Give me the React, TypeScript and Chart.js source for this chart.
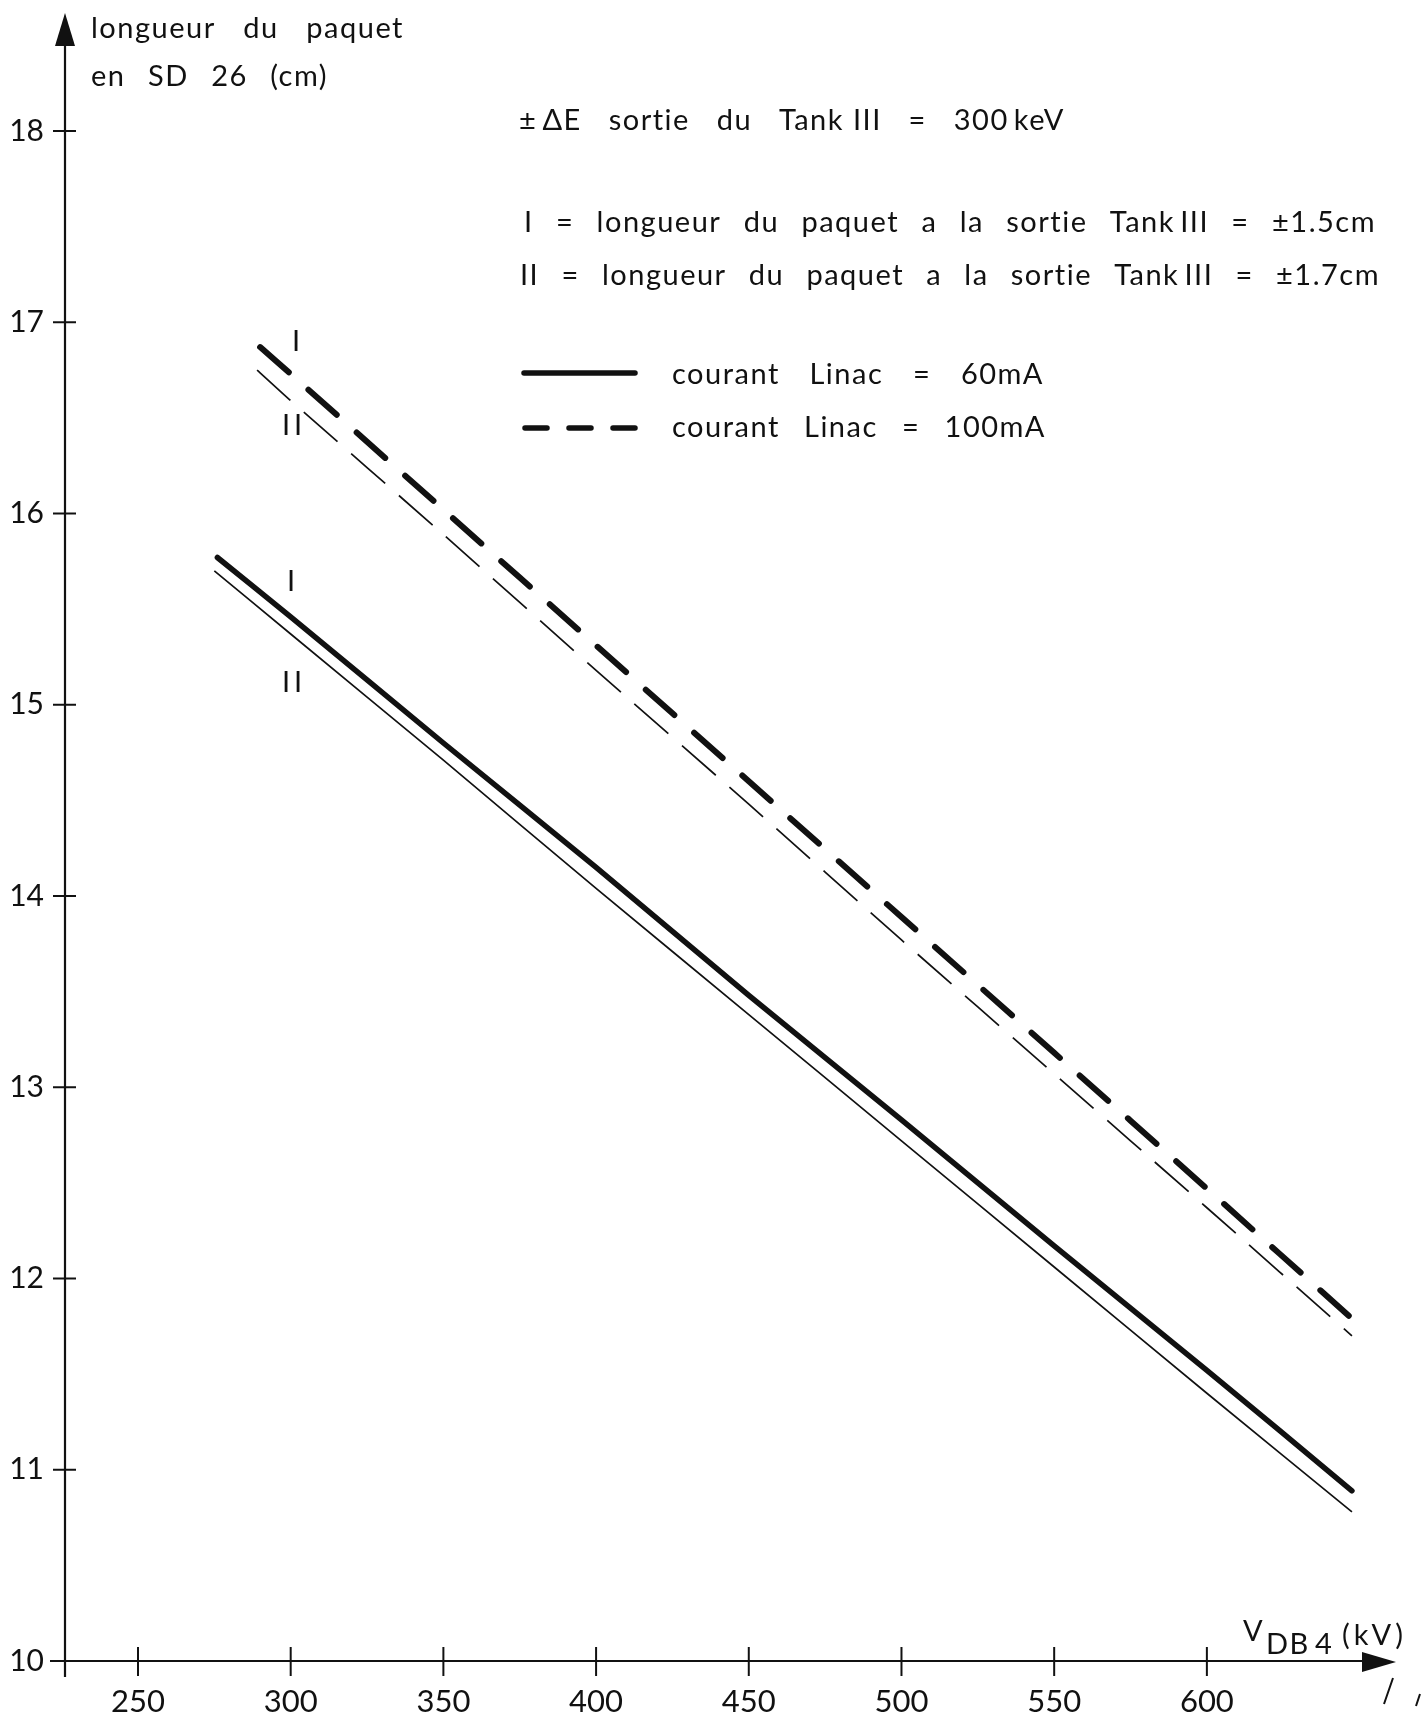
import React, { useEffect, useRef } from "react";
import { Chart, registerables } from "chart.js";

Chart.register(...registerables);

// ---- data ----
const xTickValues = [250, 300, 350, 400, 450, 500, 550, 600];
const yTickValues = [10, 11, 12, 13, 14, 15, 16, 17, 18];

// courant Linac = 60 mA (solid)
const kvSolidI = [276, 300, 350, 400, 450, 500, 550, 600, 647.5];
const lenSolidI = [15.77, 15.46, 14.8, 14.15, 13.48, 12.83, 12.17, 11.52, 10.89];
const kvSolidII = [275, 300, 350, 400, 450, 500, 550, 600, 647.5];
const lenSolidII = [15.7, 15.37, 14.71, 14.04, 13.38, 12.72, 12.06, 11.4, 10.78];

// courant Linac = 100 mA (dashed)
const kvDashI = [290, 300, 350, 400, 450, 500, 550, 600, 647.5];
const lenDashI = [16.87, 16.73, 16.02, 15.31, 14.6, 13.89, 13.18, 12.47, 11.79];
const kvDashII = [289, 300, 350, 400, 450, 500, 550, 600, 647.5];
const lenDashII = [16.75, 16.59, 15.89, 15.18, 14.48, 13.77, 13.07, 12.37, 11.7];

const yTitleLines = ["longueur du paquet", "en SD 26 (cm)"];
const noteLines = [
  "±\u2009ΔE sortie du Tank\u00A0III = 300\u2009keV",
  "I = longueur du paquet a la sortie Tank\u2009III = ±1.5cm",
  "II = longueur du paquet a la sortie Tank\u2009III = ±1.7cm",
];
const legendLabels = ["courant Linac = 60mA", "courant Linac = 100mA"];
const curveLabels = ["I", "II", "I", "II"];
const xTitleParts = ["V", "DB\u20094", "(kV)"];

const FONT = "Lato, 'Open Sans', sans-serif";
const INK = "#111";

function zip(xs: number[], ys: number[]) {
  return xs.map((x, i) => ({ x, y: ys[i] }));
}

function spreadText(ctx: CanvasRenderingContext2D, text: string, x: number, y: number, target: number) {
  const words = text.split(" ");
  const widths = words.map((w) => ctx.measureText(w).width);
  const sum = widths.reduce((a, b) => a + b, 0);
  const gap = words.length > 1 ? (target - sum) / (words.length - 1) : 0;
  let cx = x;
  words.forEach((w, i) => {
    ctx.fillText(w, cx, y);
    cx += widths[i] + gap;
  });
}

const decorPlugin = {
  id: "decor",
  afterDraw(chart: any) {
    const ctx: any = chart.ctx;
    const xs = chart.scales.x;
    const ys = chart.scales.y;
    const ax = chart.chartArea.left;
    const ay = chart.chartArea.bottom;
    ctx.save();
    ctx.strokeStyle = INK;
    ctx.fillStyle = INK;
    ctx.lineCap = "butt";
    ctx.setLineDash([]);

    // y axis
    ctx.lineWidth = 2.2;
    ctx.beginPath();
    ctx.moveTo(ax, 40);
    ctx.lineTo(ax, ay + 16);
    ctx.stroke();
    ctx.beginPath();
    ctx.moveTo(ax, 13);
    ctx.lineTo(ax - 10, 46);
    ctx.lineTo(ax + 10, 46);
    ctx.closePath();
    ctx.fill();

    // x axis
    ctx.beginPath();
    ctx.moveTo(ax - 15, ay);
    ctx.lineTo(1370, ay);
    ctx.stroke();
    ctx.beginPath();
    ctx.moveTo(1396, ay + 1);
    ctx.lineTo(1362, ay - 9);
    ctx.lineTo(1362, ay + 11);
    ctx.closePath();
    ctx.fill();

    // ticks crossing the axes
    ctx.lineWidth = 2;
    yTickValues.forEach((v) => {
      const py = ys.getPixelForValue(v);
      ctx.beginPath();
      ctx.moveTo(ax - 12, py);
      ctx.lineTo(ax + 11, py);
      ctx.stroke();
    });
    xTickValues.forEach((v) => {
      const px = xs.getPixelForValue(v);
      ctx.beginPath();
      ctx.moveTo(px, ay - 14);
      ctx.lineTo(px, ay + 15);
      ctx.stroke();
    });

    // break marks
    ctx.beginPath();
    ctx.moveTo(1393, 1678);
    ctx.lineTo(1384, 1704);
    ctx.moveTo(1420, 1694);
    ctx.lineTo(1416, 1706);
    ctx.stroke();

    ctx.letterSpacing = "1.5px";
    // y title
    ctx.textAlign = "left";
    ctx.textBaseline = "alphabetic";
    ctx.font = `29px ${FONT}`;
    spreadText(ctx, yTitleLines[0], 91, 38, 313);
    spreadText(ctx, yTitleLines[1], 91, 86, 237);

    // x title
    ctx.font = `29px ${FONT}`;
    ctx.fillText(xTitleParts[0], 1243, 1641);
    ctx.fillText(xTitleParts[1], 1266, 1654);
    ctx.letterSpacing = "4px";
    ctx.fillText(xTitleParts[2], 1342, 1645);
    ctx.letterSpacing = "1.5px";

    // notes
    ctx.font = `29px ${FONT}`;
    ctx.textBaseline = "middle";
    spreadText(ctx, noteLines[0], 519, 121, 546);
    spreadText(ctx, noteLines[1], 524, 223, 852);
    spreadText(ctx, noteLines[2], 520, 276, 860);

    // legend
    ctx.lineWidth = 5.5;
    ctx.lineCap = "round";
    ctx.beginPath();
    ctx.moveTo(524, 373);
    ctx.lineTo(635, 373);
    ctx.stroke();
    ctx.setLineDash([22, 22]);
    ctx.beginPath();
    ctx.moveTo(525, 428);
    ctx.lineTo(638, 428);
    ctx.stroke();
    ctx.setLineDash([]);
    spreadText(ctx, legendLabels[0], 672, 375, 372);
    spreadText(ctx, legendLabels[1], 672, 428, 374);

    // curve labels I / II
    ctx.letterSpacing = "4px";
    ctx.textAlign = "center";
    ctx.font = `29px ${FONT}`;
    const lp = [
      [298, 342],
      [294, 426],
      [293, 582],
      [294, 683],
    ];
    curveLabels.forEach((t, i) => ctx.fillText(t, lp[i][0], lp[i][1]));
    ctx.letterSpacing = "0px";

    ctx.restore();
  },
};

export default function App() {
  const ref = useRef<HTMLCanvasElement | null>(null);

  useEffect(() => {
    if (!ref.current) return;
    const chart = new Chart(ref.current, {
      type: "line",
      data: {
        datasets: [
          {
            label: "I 60 mA",
            data: zip(kvSolidI, lenSolidI),
            borderColor: INK,
            borderWidth: 5.5,
            borderCapStyle: "round",
            pointRadius: 0,
            tension: 0.2,
          },
          {
            label: "II 60 mA",
            data: zip(kvSolidII, lenSolidII),
            borderColor: INK,
            borderWidth: 1.7,
            pointRadius: 0,
            tension: 0.2,
          },
          {
            label: "I 100 mA",
            data: zip(kvDashI, lenDashI),
            borderColor: INK,
            borderWidth: 6,
            borderDash: [38, 26.5],
            borderCapStyle: "round",
            pointRadius: 0,
            tension: 0.2,
          },
          {
            label: "II 100 mA",
            data: zip(kvDashII, lenDashII),
            borderColor: INK,
            borderWidth: 1.7,
            borderDash: [45, 18],
            pointRadius: 0,
            tension: 0.2,
          },
        ],
      },
      options: {
        animation: false,
        responsive: true,
        maintainAspectRatio: false,
        layout: { padding: { top: 13, right: 28, left: 0, bottom: 0 } },
        plugins: { legend: { display: false }, tooltip: { enabled: false } },
        scales: {
          x: {
            type: "linear",
            min: 226.1,
            max: 661.6,
            grid: { display: false, drawTicks: false },
            border: { display: false },
            afterBuildTicks: (s: any) => {
              s.ticks = xTickValues.map((v) => ({ value: v }));
            },
            afterFit: (s: any) => {
              s.height = 53;
              s.paddingLeft = 0;
              s.paddingRight = 0;
            },
            ticks: {
              color: INK,
              font: { family: FONT, size: 31 },
              padding: 22,
              maxRotation: 0,
              autoSkip: false,
            },
          },
          y: {
            type: "linear",
            min: 10,
            max: 18.617,
            grid: { display: false, drawTicks: false },
            border: { display: false },
            afterBuildTicks: (s: any) => {
              s.ticks = yTickValues.map((v) => ({ value: v }));
            },
            afterFit: (s: any) => {
              s.width = 65;
              s.paddingTop = 0;
              s.paddingBottom = 0;
            },
            ticks: {
              color: INK,
              font: { family: FONT, size: 30 },
              padding: 21,
              autoSkip: false,
            },
          },
        },
      },
      plugins: [decorPlugin],
    });
    return () => chart.destroy();
  }, []);

  return (
    <div style={{ position: "absolute", left: 0, top: 0, width: 1423, height: 1714, background: "#fff" }}>
      <canvas ref={ref} />
    </div>
  );
}
